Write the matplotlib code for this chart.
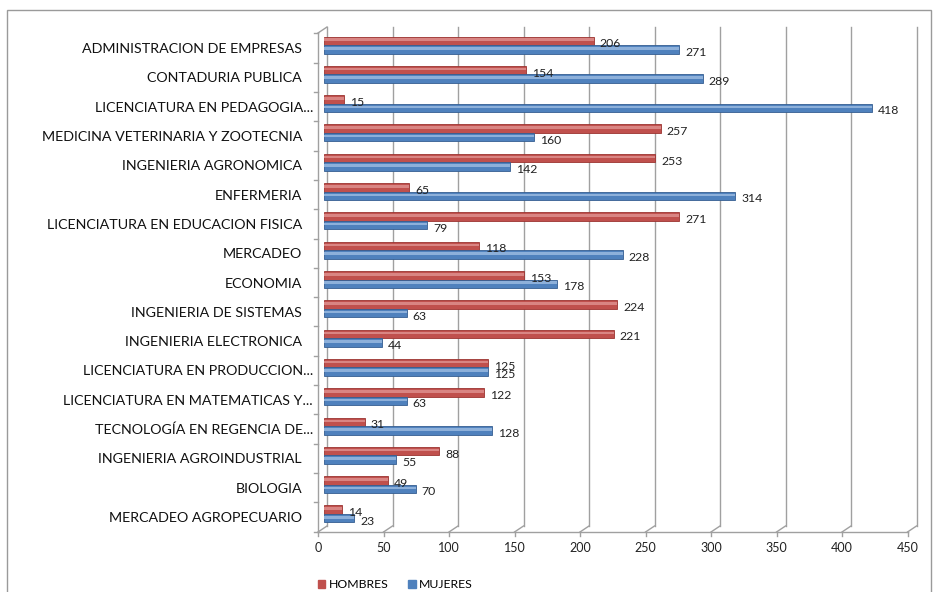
import matplotlib
matplotlib.use("Agg")
import matplotlib.pyplot as plt
import matplotlib.transforms as mtransforms
from matplotlib.patches import Rectangle, Patch
import numpy as np

plt.rcParams['font.family'] = ['Lato', 'DejaVu Sans']

carreras = [
    "ADMINISTRACION DE EMPRESAS",
    "CONTADURIA PUBLICA",
    "LICENCIATURA EN PEDAGOGIA...",
    "MEDICINA VETERINARIA Y ZOOTECNIA",
    "INGENIERIA AGRONOMICA",
    "ENFERMERIA",
    "LICENCIATURA EN EDUCACION FISICA",
    "MERCADEO",
    "ECONOMIA",
    "INGENIERIA DE SISTEMAS",
    "INGENIERIA ELECTRONICA",
    "LICENCIATURA EN PRODUCCION...",
    "LICENCIATURA EN MATEMATICAS Y...",
    "TECNOLOGÍA EN REGENCIA DE...",
    "INGENIERIA AGROINDUSTRIAL",
    "BIOLOGIA",
    "MERCADEO AGROPECUARIO",
]
hombres = [206, 154, 15, 257, 253, 65, 271, 118, 153, 224, 221, 125, 122, 31, 88, 49, 14]
mujeres = [271, 289, 418, 160, 142, 314, 79, 228, 178, 63, 44, 125, 63, 128, 55, 70, 23]
xticks = [0, 50, 100, 150, 200, 250, 300, 350, 400, 450]

RED = "#C0504D"
BLUE = "#4F81BD"
GRID = "#A0A0A0"

W, H = 934, 592
fig = plt.figure(figsize=(W / 100, H / 100), dpi=100)

# outer chart frame
fig.patches.append(Rectangle((7 / W, -0.02), (931 - 7) / W, (H - 10) / H + 0.02,
                             transform=fig.transFigure, fill=False,
                             edgecolor="#9A9A9A", linewidth=1.0))

# axes in pixel space: x 324..913.5, y 27..532 (from top)
ax = fig.add_axes([324 / W, 1 - 532 / H, (913.5 - 324) / W, (532 - 27) / H])
n = len(carreras)
sp = 29.31
ax.set_xlim(0, 450)
ax.set_ylim(n - 1 + 18 / sp, -18 / sp)
ax.axis("off")

y = np.arange(n)
bh = 0.29
ax.barh(y - bh / 2, hombres, height=bh, color=RED, edgecolor="#9B3431", linewidth=0.6, zorder=3)
ax.barh(y + bh / 2, mujeres, height=bh, color=BLUE, edgecolor="#355E91", linewidth=0.6, zorder=3)
# highlight to give the cylinder look
ax.barh(y - bh / 2 - bh * 0.12, hombres, height=bh * 0.3, color="#D98583", linewidth=0, zorder=4)
ax.barh(y + bh / 2 - bh * 0.12, mujeres, height=bh * 0.3, color="#8DB0DA", linewidth=0, zorder=4)

lab_off = mtransforms.offset_copy(ax.transData, fig=fig, x=6, y=-3, units="dots")
for i in range(n):
    ax.text(hombres[i], y[i] - bh / 2, str(hombres[i]), transform=lab_off,
            ha="left", va="center", fontsize=8.8, color="#222222", zorder=5)
    ax.text(mujeres[i], y[i] + bh / 2, str(mujeres[i]), transform=lab_off,
            ha="left", va="center", fontsize=8.8, color="#222222", zorder=5)

# 3D walls: back plane shifted right/up, front plane shifted left/down
bt = mtransforms.blended_transform_factory(ax.transData, ax.transAxes)
back = bt + mtransforms.ScaledTranslation(3 / 100, 0, fig.dpi_scale_trans)
front = bt + mtransforms.ScaledTranslation(-6 / 100, 0, fig.dpi_scale_trans)
y_back_floor = 6 / 505
for xt in xticks:
    ax.plot([xt, xt], [y_back_floor, 1], transform=back, color=GRID, lw=1.0, zorder=1, clip_on=False)
    # slant from front floor to back wall, plus tick
    x0 = ax.transData.transform((xt, 0))[0] - 6
    y0 = ax.transAxes.transform((0, 0))[1]
    fig.add_artist(plt.Line2D([x0 / W, (x0 + 9) / W], [y0 / H, (y0 + 6) / H],
                              color=GRID, lw=1.0, transform=fig.transFigure))
    fig.add_artist(plt.Line2D([x0 / W, x0 / W], [y0 / H, (y0 - 4) / H],
                              color=GRID, lw=1.0, transform=fig.transFigure))
    ax.text(xt, 0, str(xt), transform=front + mtransforms.ScaledTranslation(0, -16 / 100, fig.dpi_scale_trans),
            ha="center", va="center", fontsize=9, color="#222222")

# floor front line
ax.plot([0, 450], [0, 0], transform=front, color=GRID, lw=1.0, clip_on=False)
# left wall
ax.plot([0, 0], [0, 1 - 6 / 505], transform=front, color=GRID, lw=1.0, clip_on=False)
fx = ax.transData.transform((0, 0))[0] - 6
top_y = ax.transAxes.transform((0, 1))[1]
fig.add_artist(plt.Line2D([fx / W, (fx + 9) / W], [(top_y - 6) / H, top_y / H],
                          color=GRID, lw=1.0, transform=fig.transFigure))
# category boundary ticks
for k in range(n + 1):
    yy = k - 0.5
    ya = ax.transData.transform((0, yy))[1]
    fig.add_artist(plt.Line2D([(fx - 4) / W, fx / W], [(ya - 3) / H, (ya - 3) / H],
                              color=GRID, lw=1.0, transform=fig.transFigure))

# category labels
lab = mtransforms.blended_transform_factory(fig.transFigure, ax.transData)
for i, c in enumerate(carreras):
    xr = 313 if c.endswith("...") else 302
    ax.text(xr / W, y[i], c, transform=lab + mtransforms.ScaledTranslation(0, -4 / 100, fig.dpi_scale_trans),
            ha="right", va="center", fontsize=10.3, color="#111111")

handles = [Patch(facecolor=RED, edgecolor=RED), Patch(facecolor=BLUE, edgecolor=BLUE)]
fig.legend(handles, ["HOMBRES", "MUJERES"], loc="center left",
           bbox_to_anchor=(318 / W, 1 - 585 / H), ncol=2, frameon=False,
           fontsize=8.8, handlelength=0.6, handleheight=0.6, handletextpad=0.3,
           columnspacing=1.6, borderpad=0, borderaxespad=0)

fig.savefig("out.png", dpi=100)
